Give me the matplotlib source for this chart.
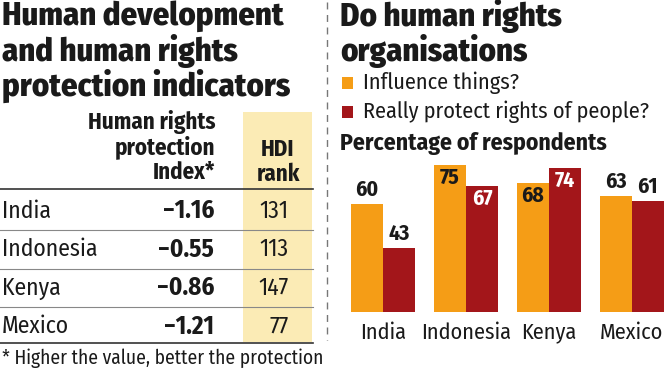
import matplotlib
matplotlib.use('Agg')
import matplotlib.pyplot as plt
from matplotlib.patches import Rectangle
from matplotlib.lines import Line2D
import numpy as np

countries = ['India', 'Indonesia', 'Kenya', 'Mexico']
hrp_index = ['\u22121.16', '\u22120.55', '\u22120.86', '\u22121.21']
hdi_rank = [131, 113, 147, 77]
influence = [60, 75, 68, 63]
protect = [43, 67, 74, 61]

orange = '#F59D16'
red = '#A3161A'
ink = '#1a1a1a'
pale = '#FBEBB5'

plt.rcParams['font.family'] = ['Fira Sans Condensed', 'DejaVu Sans']

W, H = 670, 370
fig = plt.figure(figsize=(6.7, 3.7), dpi=100)

def px(x, y):
    return x / W, 1 - y / H

def txt(x, y, s, **kw):
    fx, fy = px(x, y)
    fig.text(fx, fy, s, color=ink, **kw)

def hline(x0, x1, y, **kw):
    a, b = px(x0, y)
    c, d = px(x1, y)
    fig.add_artist(Line2D([a, c], [b, d], transform=fig.transFigure, **kw))

# left panel title
for i, line in enumerate(['Human development', 'and human rights', 'protection indicators']):
    txt(2, 16 + i * 35, line, fontsize=23.5, fontweight=800, va='center')

# HDI column highlight
fx, fy = px(243, 342)
fig.add_artist(Rectangle((fx, fy), 69 / W, 230 / H, transform=fig.transFigure,
                         facecolor=pale, edgecolor='none', zorder=0))

# header
for i, line in enumerate(['Human rights', 'protection', 'Index*']):
    txt(215, 122 + i * 25, line, fontsize=16.5, fontweight='bold', ha='right', va='center')
txt(278, 149, 'HDI', fontsize=16.5, fontweight='bold', ha='center', va='center')
txt(278, 174, 'rank', fontsize=16.5, fontweight='bold', ha='center', va='center')

hline(0, 313, 189, color='#333333', lw=1.2)
for i, c in enumerate(countries):
    y = 211 + i * 38.5
    txt(2, y, c, fontsize=17, va='center')
    txt(214, y, hrp_index[i], fontsize=18, fontweight='bold', ha='right', va='center')
    txt(289, y, str(hdi_rank[i]), fontsize=17, ha='right', va='center')
    if i < 3:
        hline(0, 313, y + 19, color='#888888', lw=0.8)
hline(0, 313, 343, color='#333333', lw=1.2)
txt(2, 358, '* Higher the value, better the protection', fontsize=14, va='center')

# dashed separator
a, b = px(327, 2)
c, d = px(327, 340)
fig.add_artist(Line2D([a, c], [b, d], transform=fig.transFigure, color='#777777',
                      lw=1, ls=(0, (5, 4))))

# right panel title and legend
txt(340, 16, 'Do human rights', fontsize=23.5, fontweight=800, va='center')
txt(340, 51, 'organisations', fontsize=23.5, fontweight=800, va='center')
for i, (col, lab) in enumerate([(orange, 'Influence things?'),
                                 (red, 'Really protect rights of people?')]):
    y = 83 + i * 29
    fx, fy = px(342, y + 6)
    fig.add_artist(Rectangle((fx, fy), 11 / W, 12 / H, transform=fig.transFigure,
                             facecolor=col, edgecolor='none'))
    txt(363, y, lab, fontsize=16, va='center')
txt(340, 143, 'Percentage of respondents', fontsize=17, fontweight='bold', va='center')

# bar chart
l, b = px(345, 312)
ax = fig.add_axes([l, b, 325 / W, 162 / H])
x = np.arange(len(countries))
bw = 0.385
ax.bar(x - bw / 2, influence, bw, color=orange)
ax.bar(x + bw / 2, protect, bw, color=red)
ax.set_xlim(-0.46, 3.46)
ax.set_ylim(18.5, 80.8)
for s in ax.spines.values():
    s.set_visible(False)
ax.set_yticks([])
ax.set_xticks(x)
ax.set_xticklabels(countries, fontsize=16, color=ink)
ax.tick_params(axis='x', length=0, pad=7)

for vals, off, incol in [(influence, -bw / 2, ink), (protect, bw / 2, 'white')]:
    for xi, v in zip(x, vals):
        if v >= 65:
            ax.text(xi + off, v - 0.8, str(v), ha='center', va='top', fontsize=15.5,
                    fontweight='bold', color=incol)
        else:
            ax.text(xi + off, v + 1.5, str(v), ha='center', va='bottom', fontsize=15.5,
                    fontweight='bold', color=ink)

fig.savefig('out.png', dpi=100)
